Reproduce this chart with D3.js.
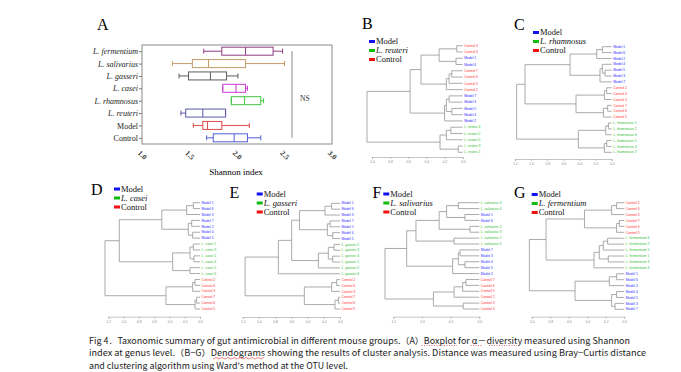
<!DOCTYPE html>
<html>
<head>
<meta charset="utf-8">
<script src="https://cdn.jsdelivr.net/npm/d3@7"></script>
<style>
  body { margin: 0; background: #fff; }
  svg { display: block; }
</style>
</head>
<body>
<script>
// ---- panel A data: Shannon index box stats [min, q1, median, q3, max]
const groupsA = ['L. fermentium', 'L. salivarius', 'L. gasseri', 'L. casei',
  'L. rhamnosus', 'L. reuteri', 'Model', 'Control'];
const statsA = [
  [1.65, 1.84, 2.09, 2.38, 2.48],
  [1.32, 1.53, 1.70, 2.09, 2.50],
  [1.39, 1.49, 1.72, 1.89, 2.01],
  [1.85, 1.85, 1.99, 2.09, 2.11],
  [1.94, 1.94, 2.08, 2.25, 2.28],
  [1.41, 1.46, 1.64, 1.88, 1.88],
  [1.54, 1.64, 1.69, 1.84, 2.13],
  [1.68, 1.75, 1.97, 2.11, 2.25],
];
const ticksA = [1.0, 1.5, 2.0, 2.5, 3.0];

// ---- dendrograms: [height, childA, childB], leaves are sample names
const treeB = [1.055,
  [0.58,
    [0.46,
      [0.26, [0.066, 'Control 3', 'Control 4'], [0.074, 'Model 1', 'Model 6']],
      [0.18, [0.15, [0.12, 'Control 7', 'Control 6'], 'Control 5'], 'Control 2']],
    [0.20, [0.18, [0.15, 'Model 7', 'Model 3'], [0.12, 'Model 5', 'Model 4']], 'Model 2']],
  [0.25, [0.18, [0.13, 'L. reuteri 4', 'L. reuteri 2'], 'L. reuteri 5'], [0.05, 'L. reuteri 3', 'L. reuteri 1']]];

const treeC = [1.18,
  [1.076,
    [0.517, [0.186, [0.116, 'Model 1', 'Model 6'], 'Model 2'],
      [0.145, [0.116, 'Model 4', [0.083, 'Model 5', 'Model 3']], 'Model 7']],
    [0.443, [0.091, [0.062, 'Control 2', 'Control 4'], 'Control 3'],
      [0.103, [0.05, 'Control 7', 'Control 6'], 'Control 5']]],
  [0.414, [0.074, [0.041, 'L. rhamnosus 1', 'L. rhamnosus 2'], 'L. rhamnosus 6'],
    [0.091, [0.062, 'L. rhamnosus 5', 'L. rhamnosus 4'], 'L. rhamnosus 3']]];

const treeD = [1.244,
  [1.056,
    [0.50, [0.175, [0.087, 'Model 1', 'Model 6'], 'Model 3'],
      [0.153, [0.109, 'Model 7', 'Model 2'], [0.096, 'Model 4', 'Model 5']]],
    [0.358, [0.131, [0.087, 'L. casei 2', 'L. casei 3'], [0.08, 'L. casei 1', 'L. casei 4']],
      [0.131, 'L. casei 5', 'L. casei 6']]],
  [0.445, [0.096, [0.065, 'Control 2', 'Control 4'], 'Control 3'],
    [0.065, [0.044, 'Control 7', 'Control 6'], 'Control 5']]];

const treeE = [1.17,
  [0.76,
    [0.596,
      [0.50, [0.185, [0.103, 'Model 1', 'Model 6'], 'Model 3'],
        [0.156, [0.123, 'Model 7', 'Model 2'], [0.09, 'Model 4', 'Model 5']]],
      [0.267, [0.144, [0.074, 'L. gasseri 2', 'L. gasseri 3'], [0.09, 'L. gasseri 4', 'L. gasseri 1']],
        'L. gasseri 5']],
    'L. gasseri 6'],
  [0.44, [0.103, [0.041, 'Control 2', 'Control 4'], 'Control 3'],
    [0.062, [0.02, 'Control 7', 'Control 6'], 'Control 5']]];

const treeF = [1.645,
  [1.267,
    [1.105,
      [0.70,
        [0.57, [0.366, 'L. salivarius 4', 'L. salivarius 6'], [0.25, 'Model 1', 'Model 6']],
        [0.163, 'L. salivarius 2', 'L. salivarius 3']],
      [0.44, 'L. salivarius 1', 'L. salivarius 5']],
    [0.465, [0.366, [0.337, 'Model 7', 'Model 3'], [0.25, 'Model 4', 'Model 5']], 'Model 2']],
  [0.80, [0.44, [0.29, [0.233, 'Control 7', 'Control 6'], 'Control 5'], 'Control 2'],
    [0.28, 'Control 3', 'Control 4']]];

const treeG = [1.025,
  [0.845,
    [0.43, [0.137, [0.083, 'Control 2', 'Control 4'], 'Control 3'],
      [0.083, [0.054, 'Control 7', 'Control 6'], 'Control 5']],
    [0.327, [0.27, [0.227, [0.18, 'L. fermentium 6', 'L. fermentium 2'], 'L. fermentium 5'],
      [0.173, 'L. fermentium 1', 'L. fermentium 3']], 'L. fermentium 4']],
  [0.532, [0.162, [0.083, 'Model 1', 'Model 6'], 'Model 2'],
    [0.137, [0.083, 'Model 4', 'Model 5'], [0.1, 'Model 3', 'Model 7']]]];

const ticks10 = [1.0, 0.8, 0.6, 0.4, 0.2, 0.0];
const ticks12 = [1.2, 1.0, 0.8, 0.6, 0.4, 0.2, 0.0];
const ticks15 = [1.5, 1.0, 0.5, 0.0];

const captionLines = [
  'Fig 4．Taxonomic summary of gut antimicrobial in different mouse groups.（A）Boxplot for α－diversity measured using Shannon',
  'index at genus level.（B−G）Dendograms showing the results of cluster analysis. Distance was measured using Bray−Curtis distance',
  "and clustering algorithm using Ward's method at the OTU level.",
];

// ---- styles
const serif = '"Liberation Serif", "Times New Roman", serif';
const colorsA = ['#8e3b80', '#c49c68', '#5c5c5c', '#c83ad2', '#3fc63f', '#5a5aa8', '#dc4c4c', '#5060dc'];
const legendCols = ['#1010f0', '#10bb10', '#f01010'];
const leafCol = name => name.startsWith('Model') ? '#3030ff'
  : name.startsWith('Control') ? '#ff3030' : '#30c030';

const svg = d3.select('body').append('svg')
  .attr('width', 681)
  .attr('height', 372);

// ================= panel A
function boxPanel() {
  const g = svg.append('g');
  const x = d3.scaleLinear().domain([1, 3]).range([142, 332]);
  const y = d3.scalePoint().domain(groupsA).range([45, 144]).padding(0.5);

  g.append('text').attr('x', 97).attr('y', 30)
    .style('font-family', serif).style('font-size', '16px').text('A');

  g.append('rect')
    .attr('x', 142).attr('y', 45).attr('width', 190).attr('height', 99)
    .attr('fill', 'none').attr('stroke', '#8a8a8a').attr('stroke-width', 1);

  const ay = g.append('g').attr('transform', 'translate(142,0)')
    .call(d3.axisLeft(y).tickSize(3).tickPadding(1));
  ay.select('.domain').remove();
  ay.selectAll('line').attr('stroke', '#777');
  ay.selectAll('text')
    .style('font-family', serif).style('font-size', '8px').attr('fill', '#222')
    .style('font-style', d => d.startsWith('L.') ? 'italic' : 'normal');

  const ax = g.append('g').attr('transform', 'translate(0,144)')
    .call(d3.axisBottom(x).tickValues(ticksA).tickSize(0).tickFormat(d3.format('.1f')));
  ax.select('.domain').remove();
  ax.selectAll('text')
    .attr('y', 0).attr('dy', '0.35em')
    .attr('transform', 'translate(0,11) rotate(45)')
    .style('text-anchor', 'middle')
    .style('font-family', serif).style('font-size', '7.5px').style('font-weight', 'bold')
    .attr('fill', '#333');

  g.append('text').attr('x', 236).attr('y', 175).attr('text-anchor', 'middle')
    .style('font-family', serif).style('font-size', '9px').text('Shannon index');

  const bh = 8;
  const rows = g.selectAll('.box').data(statsA).enter().append('g')
    .attr('transform', (d, i) => `translate(0,${y(groupsA[i])})`)
    .attr('stroke', (d, i) => colorsA[i])
    .attr('fill', 'none')
    .attr('stroke-width', 1);
  rows.append('line').attr('x1', d => x(d[0])).attr('x2', d => x(d[1]));
  rows.append('line').attr('x1', d => x(d[3])).attr('x2', d => x(d[4]));
  rows.append('line').attr('x1', d => x(d[0])).attr('x2', d => x(d[0])).attr('y1', -2.5).attr('y2', 2.5);
  rows.append('line').attr('x1', d => x(d[4])).attr('x2', d => x(d[4])).attr('y1', -2.5).attr('y2', 2.5);
  rows.append('rect')
    .attr('x', d => x(d[1])).attr('width', d => x(d[3]) - x(d[1]))
    .attr('y', -bh / 2).attr('height', bh);
  rows.append('line').attr('x1', d => x(d[2])).attr('x2', d => x(d[2])).attr('y1', -bh / 2).attr('y2', bh / 2);

  // NS bracket
  g.append('line')
    .attr('x1', 292).attr('x2', 292)
    .attr('y1', y(groupsA[0])).attr('y2', y(groupsA[groupsA.length - 1]))
    .attr('stroke', '#888').attr('stroke-width', 1);
  g.append('text').attr('x', 300).attr('y', 101)
    .style('font-family', serif).style('font-size', '7.5px').attr('fill', '#333').text('NS');
}

// ================= dendrogram panels
function dendro(p) {
  const g = svg.append('g');
  const root = d3.hierarchy(p.tree, d => Array.isArray(d) ? d.slice(1) : null);
  const leaves = root.leaves().map(d => d.data);
  const x = d3.scaleLinear().domain([p.max, 0]).range([p.x0, p.x1]);
  const y = d3.scalePoint().domain(leaves).range([p.y0, p.y1]);

  root.eachAfter(d => {
    d.h = d.children ? d.data[0] : 0;
    d.py = d.children
      ? (d.children[0].py + d.children[d.children.length - 1].py) / 2
      : y(d.data);
  });

  g.append('text').attr('x', p.lx).attr('y', p.ly)
    .style('font-family', serif).style('font-size', '16px').text(p.letter);

  const legend = ['Model', p.species, 'Control'];
  legend.forEach((name, i) => {
    const ly = p.legY + i * 9;
    g.append('rect')
      .attr('x', p.legX).attr('y', ly - 1.5)
      .attr('width', 6).attr('height', 3)
      .attr('fill', legendCols[i]);
    g.append('text')
      .attr('x', p.legX + 7).attr('y', ly).attr('dy', '0.32em')
      .style('font-family', serif).style('font-size', '8.5px')
      .style('font-style', i === 1 ? 'italic' : 'normal')
      .attr('fill', '#111')
      .text(name);
  });

  g.selectAll('.link')
    .data(root.descendants().filter(d => d.children))
    .enter().append('path')
    .attr('d', d => {
      const a = d.children[0];
      const b = d.children[d.children.length - 1];
      return `M${x(a.h)},${a.py}H${x(d.h)}V${b.py}H${x(b.h)}`;
    })
    .attr('fill', 'none')
    .attr('stroke', '#a0a0a0')
    .attr('stroke-width', 0.9);

  g.selectAll('.leaf')
    .data(leaves)
    .enter().append('text')
    .attr('x', p.x1 + 1.5)
    .attr('y', d => y(d))
    .attr('dy', '0.35em')
    .style('font-family', 'Arial, "Liberation Sans", sans-serif')
    .style('font-size', '3.4px')
    .attr('fill', leafCol)
    .text(d => d);

  const ax = g.append('g').attr('transform', `translate(0,${p.ay})`)
    .call(d3.axisBottom(x).tickValues(p.ticks).tickSize(2).tickPadding(1.5)
      .tickFormat(d3.format('.1f')));
  ax.select('.domain').attr('stroke', '#aaa').attr('stroke-width', 0.7);
  ax.selectAll('line').attr('stroke', '#aaa').attr('stroke-width', 0.7);
  ax.selectAll('text').style('font-size', '3.3px').attr('fill', '#888')
    .style('font-family', 'Arial, "Liberation Sans", sans-serif');
}

boxPanel();

dendro({ letter: 'B', lx: 362, ly: 28.5, species: 'L. reuteri', tree: treeB,
  legX: 369, legY: 41.5,
  x0: 372, x1: 462.7, max: 1.0, ticks: ticks10, y0: 45.7, y1: 152.3, ay: 157 });
dendro({ letter: 'C', lx: 514, ly: 30, species: 'L. rhamnosus', tree: treeC,
  legX: 533, legY: 32.5,
  x0: 515, x1: 611.7, max: 1.2, ticks: ticks12, y0: 46.7, y1: 152.3, ay: 159 });
dendro({ letter: 'D', lx: 91, ly: 194.5, species: 'L. casei', tree: treeD,
  legX: 114, legY: 189,
  x0: 108.3, x1: 200, max: 1.2, ticks: ticks12, y0: 202.7, y1: 309, ay: 316.7 });
dendro({ letter: 'E', lx: 229.5, ly: 197.5, species: 'L. gasseri', tree: treeE,
  legX: 256.7, legY: 194,
  x0: 242.7, x1: 340, max: 1.2, ticks: ticks12, y0: 203.3, y1: 309, ay: 317 });
dendro({ letter: 'F', lx: 372.5, ly: 198, species: 'L. salivarius', tree: treeF,
  legX: 383.3, legY: 194,
  x0: 393.3, x1: 479.3, max: 1.5, ticks: ticks15, y0: 202.7, y1: 309, ay: 316.7 });
dendro({ letter: 'G', lx: 514, ly: 198, species: 'L. fermentium', tree: treeG,
  legX: 531.7, legY: 194.5,
  x0: 531.7, x1: 624.3, max: 1.0, ticks: ticks10, y0: 202.7, y1: 309.3, ay: 316.7 });

// ================= caption
const capWidths = [541, 557, 259];
const cap = svg.append('g')
  .style('font-family', '"Noto Sans CJK SC", "Noto Sans", sans-serif')
  .style('font-size', '8.6px')
  .attr('fill', '#1a1a1a');
captionLines.forEach((line, i) => {
  cap.append('text').attr('x', 89).attr('y', 343.5 + i * 12.5)
    .attr('textLength', capWidths[i]).attr('lengthAdjust', 'spacingAndGlyphs')
    .text(line);
});

// spell-check style underlines seen in the source document
const wave = d3.range(0, 18).map(i => [213 + i * 3, i % 2 ? 357.5 : 359]);
svg.append('path').attr('d', d3.line()(wave))
  .attr('fill', 'none').attr('stroke', '#e03030').attr('stroke-width', 0.6);
[[421.5, 457], [470.5, 482], [489, 517]].forEach(([a, b]) => {
  svg.append('line').attr('x1', a).attr('x2', b).attr('y1', 345.5).attr('y2', 345.5)
    .attr('stroke', '#e03030').attr('stroke-width', 0.7).attr('stroke-dasharray', '1,1.5');
});
</script>
</body>
</html>
